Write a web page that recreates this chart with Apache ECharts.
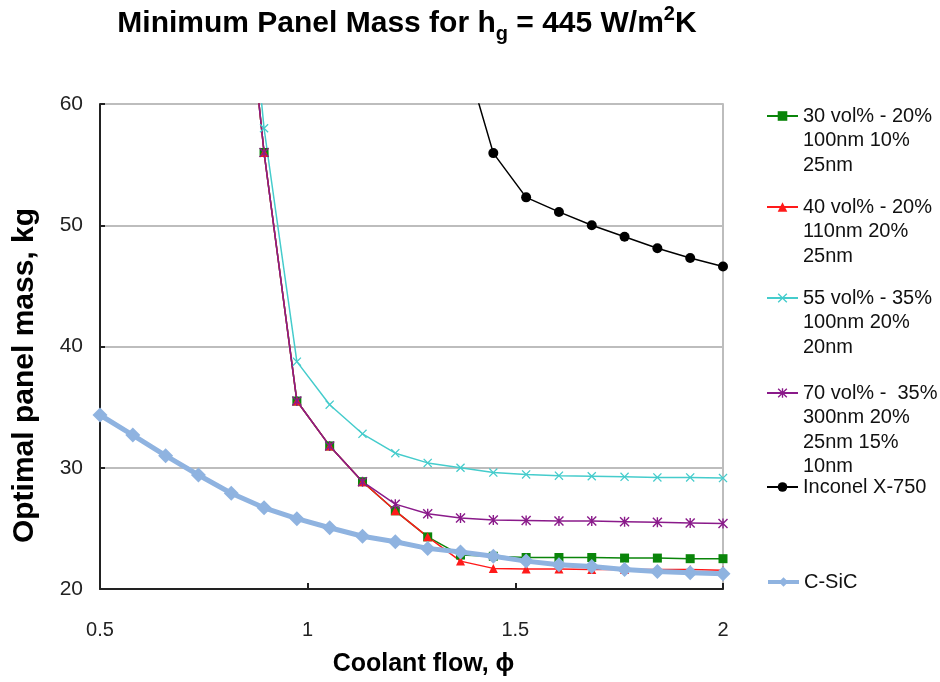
<!DOCTYPE html>
<html>
<head>
<meta charset="utf-8">
<script src="https://cdn.jsdelivr.net/npm/echarts@6/dist/echarts.min.js"></script>
<style>
  html, body { margin: 0; padding: 0; background: #fff; }
  #chart { width: 940px; height: 682px; }
</style>
</head>
<body>
<div id="chart"></div>
<script>
// coolant flow values (x)
const flow = [0.5, 0.579, 0.658, 0.737, 0.816, 0.895, 0.974, 1.053, 1.132, 1.211,
    1.289, 1.368, 1.447, 1.526, 1.605, 1.684, 1.763, 1.842, 1.921, 2.0];

// optimal panel mass, kg (null = no point)
const vol30 = [null, null, null, null, 82, 56, 35.5, 31.8, 28.85, 26.45,
    24.3, 22.8, 22.7, 22.6, 22.6, 22.6, 22.55, 22.55, 22.5, 22.5];
const vol40 = [null, null, null, null, 82, 56, 35.5, 31.8, 28.85, 26.45,
    24.3, 22.3, 21.7, 21.65, 21.65, 21.6, 21.6, 21.6, 21.6, 21.55];
const vol55 = [null, null, null, null, 86, 58, 38.75, 35.2, 32.8, 31.2,
    30.4, 30.0, 29.6, 29.45, 29.35, 29.3, 29.25, 29.2, 29.2, 29.15];
const vol70 = [null, null, null, null, 82, 56, 35.5, 31.8, 28.85, 27.0,
    26.2, 25.85, 25.7, 25.65, 25.6, 25.6, 25.55, 25.5, 25.45, 25.4];
const inconel = [null, null, null, null, null, null, null, null, null, null,
    80, 65.2, 55.95, 52.3, 51.1, 50.0, 49.05, 48.1, 47.3, 46.6];
const csic = [34.35, 32.7, 31.0, 29.4, 27.9, 26.7, 25.8, 25.05, 24.35, 23.9,
    23.35, 23.05, 22.7, 22.3, 22.0, 21.85, 21.6, 21.45, 21.35, 21.25];

const yTicks = [20, 30, 40, 50, 60];
const xTicks = [0.5, 1, 1.5, 2];

const names = [
    "30 vol% - 20%\n100nm 10%\n25nm",
    "40 vol% - 20%\n110nm 20%\n25nm",
    "55 vol% - 35%\n100nm 20%\n20nm",
    "70 vol% -  35%\n300nm 20%\n25nm 15%\n10nm",
    "Inconel X-750",
    "C-SiC"
];

const FONT = "'Liberation Sans', Arial, sans-serif";
const xMark = "path://M0,1 L1,0 L5,4 L9,0 L10,1 L6,5 L10,9 L9,10 L5,6 L1,10 L0,9 L4,5 Z";
const starMark = xMark + " M4.3,0 L5.7,0 L5.7,10 L4.3,10 Z";

const toPairs = (ys) => flow.map((x, i) => [x, ys[i]]).filter((p) => p[1] !== null);

const makeSeries = (name, ys, color, symbol, size, width) => ({
    name,
    type: "line",
    data: toPairs(ys),
    symbol,
    symbolSize: size,
    showSymbol: true,
    clip: true,
    lineStyle: { color, width },
    itemStyle: { color },
    emphasis: { disabled: true },
    animation: false
});

const series = [
    makeSeries(names[0], vol30, "#0a850a", "rect", 9, 1.5),
    makeSeries(names[1], vol40, "#ff1a1a", "triangle", 9, 1.5),
    makeSeries(names[2], vol55, "#45cccc", xMark, 9, 1.5),
    makeSeries(names[3], vol70, "#8a1a8a", starMark, 10, 1.5),
    makeSeries(names[4], inconel, "#000000", "circle", 10, 1.5),
    makeSeries(names[5], csic, "#8fb3e0", "diamond", 15, 5)
];

// legend entries placed one by one; blank lines on top put the icon on the first text line
const legendIconY = [116, 207, 298, 393, 487, 582];
const LH = 24.5;
const legends = names.map((name, i) => {
    const n = name.split("\n").length;
    return {
        data: [name],
        orient: "vertical",
        left: 766,
        top: legendIconY[i] - (n - 0.5) * LH,
        padding: 0,
        itemWidth: 31,
        itemHeight: 12,
        selectedMode: false,
        formatter: (nm) => "\n".repeat(n - 1) + nm,
        lineStyle: { width: i === 5 ? 4 : 2 },
        textStyle: {
            fontFamily: FONT,
            fontSize: 20,
            color: "#111",
            lineHeight: LH
        }
    };
});

const chart = echarts.init(document.getElementById("chart"));
chart.setOption({
    backgroundColor: "#fff",
    animation: false,
    title: {
        text: "{a|Minimum Panel Mass for h}{sub|g}{a| = 445 W/m}{sup|2}{a|K}",
        left: 407,
        textAlign: "center",
        top: 4,
        padding: 0,
        textStyle: {
            rich: {
                a: { fontFamily: FONT, fontSize: 30, fontWeight: "bold", color: "#000", lineHeight: 40 },
                sub: { fontFamily: FONT, fontSize: 20, fontWeight: "bold", color: "#000", lineHeight: 20, verticalAlign: "bottom" },
                sup: { fontFamily: FONT, fontSize: 20, fontWeight: "bold", color: "#000", lineHeight: 28, verticalAlign: "top" }
            }
        }
    },
    legend: legends,
    grid: { left: 100, right: 217, top: 104, bottom: 93 },
    xAxis: {
        type: "value",
        min: xTicks[0],
        max: xTicks[xTicks.length - 1],
        interval: 0.5,
        name: "Coolant flow, \u03d5",
        nameLocation: "middle",
        nameGap: 63,
        nameTextStyle: {
            fontFamily: FONT, fontSize: 25, fontWeight: "bold", color: "#000",
            padding: [0, 0, 0, 24]
        },
        axisLine: { lineStyle: { color: "#222", width: 2 } },
        axisTick: { inside: true, length: 6, lineStyle: { color: "#222", width: 2 } },
        axisLabel: { fontFamily: FONT, fontSize: 20, color: "#222", margin: 31 },
        splitLine: { show: false }
    },
    yAxis: [
        {
            type: "value",
            min: yTicks[0],
            max: yTicks[yTicks.length - 1],
            interval: 10,
            name: "Optimal panel mass, kg",
            nameLocation: "middle",
            nameRotate: 90,
            nameGap: 60,
            nameTextStyle: {
                fontFamily: FONT, fontSize: 30, fontWeight: "bold", color: "#000",
                padding: [0, 58, 0, 0]
            },
            axisLine: { show: true, lineStyle: { color: "#222", width: 2 } },
            axisTick: { show: true, inside: true, length: 5, lineStyle: { color: "#222", width: 2 } },
            axisLabel: { fontFamily: FONT, fontSize: 21, color: "#222", margin: 17 },
            splitLine: { show: true, lineStyle: { color: "#bdbdbd", width: 2 } }
        },
        {
            type: "value",
            position: "right",
            min: yTicks[0],
            max: yTicks[yTicks.length - 1],
            interval: 10,
            axisLine: { show: true, lineStyle: { color: "#bdbdbd", width: 2 } },
            axisTick: { show: false },
            axisLabel: { show: false },
            splitLine: { show: false }
        }
    ],
    series
});
</script>
</body>
</html>
